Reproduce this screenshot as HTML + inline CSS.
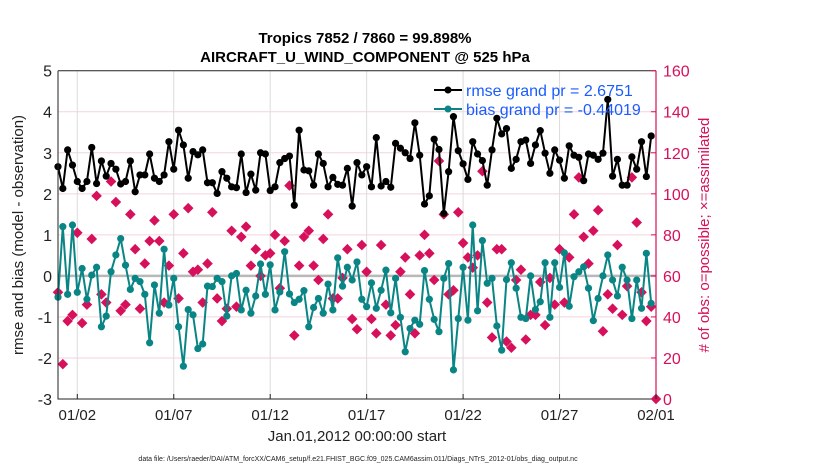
<!DOCTYPE html>
<html><head><meta charset="utf-8"><style>
html,body{margin:0;padding:0;background:#fff}
svg{display:block;font-family:"Liberation Sans",sans-serif}
</style></head><body>
<svg id="chart" width="830" height="470" viewBox="0 0 830 470">
<g id="grid"></g>
<g id="series"></g>
<g id="axes"></g>
<text x="365" y="43" text-anchor="middle" font-size="15" font-weight="bold">Tropics 7852 / 7860 = 99.898%</text>
<text x="365" y="62" text-anchor="middle" font-size="15" font-weight="bold">AIRCRAFT_U_WIND_COMPONENT @ 525 hPa</text>
<text transform="translate(23,235) rotate(-90)" text-anchor="middle" font-size="15" fill="#222">rmse and bias (model - observation)</text>
<text transform="translate(709,235) rotate(-90)" text-anchor="middle" font-size="15" fill="#d6105a"># of obs: o=possible; ×=assimilated</text>
<text x="357" y="441" text-anchor="middle" font-size="15" fill="#222">Jan.01,2012 00:00:00 start</text>
<text x="358" y="461" text-anchor="middle" font-size="7" fill="#222">data file: /Users/raeder/DAI/ATM_forcXX/CAM6_setup/f.e21.FHIST_BGC.f09_025.CAM6assim.011/Diags_NTrS_2012-01/obs_diag_output.nc</text>
<g>
<line x1="434" y1="90" x2="462" y2="90" stroke="#000" stroke-width="2"/>
<circle cx="448" cy="90" r="3.5" fill="#000"/>
<text x="466" y="96" font-size="16" fill="#1a5cff">rmse grand pr = 2.6751</text>
<line x1="434" y1="109" x2="462" y2="109" stroke="#0a8585" stroke-width="2"/>
<circle cx="448" cy="109" r="3.5" fill="#0a8585"/>
<text x="466" y="115" font-size="16" fill="#1a5cff">bias grand pr = -0.44019</text>
</g>
</svg>
<script>
const rmse=[2.66,2.13,3.07,2.70,2.30,2.13,2.30,3.13,2.25,2.80,2.43,2.74,2.60,2.24,2.30,2.80,2.05,2.46,2.46,2.97,2.38,2.30,2.46,3.27,2.60,3.55,3.19,2.38,3.03,2.95,
3.07,2.27,2.27,2.01,2.54,2.38,2.17,2.15,2.97,2.03,2.48,2.09,3.00,2.97,2.08,2.17,2.76,2.86,2.92,1.72,3.55,2.58,2.56,2.21,2.97,2.74,2.17,2.40,2.23,2.21,2.62,
1.70,2.76,2.46,2.66,2.17,3.37,2.19,2.30,2.16,3.23,3.11,3.00,2.86,3.73,2.94,1.75,1.95,3.33,3.08,1.52,2.54,3.88,3.05,2.73,2.35,3.27,2.97,2.81,2.21,3.07,3.84,
3.46,3.59,2.62,2.84,3.27,3.31,2.74,3.19,3.54,2.99,2.50,3.07,2.82,2.38,3.17,2.94,2.89,2.32,2.97,2.94,2.84,2.99,4.30,2.43,2.84,2.21,2.21,2.90,2.60,3.27,2.42,3.41];
const bias=[-0.52,1.20,-0.45,1.24,-0.40,0.18,-0.57,0.02,0.21,-1.24,-0.98,0.10,0.51,0.91,0.26,-0.33,-0.06,-0.14,-0.45,-1.63,-0.22,-0.91,0.65,-0.71,-0.06,-1.24,-2.20,-0.82,-0.95,-1.77,
-1.66,-0.25,-0.26,-0.06,-0.14,-0.98,0.00,0.06,-0.83,-0.35,-0.91,-0.49,0.29,-0.45,0.27,-0.83,-0.39,0.59,-0.44,-0.65,-0.57,-0.36,-1.24,-0.77,-0.55,-0.91,-0.20,-0.83,0.44,-0.25,0.21,
-0.10,0.34,-0.57,-0.75,-0.17,-0.79,-0.35,0.14,-0.90,-0.06,-1.01,-1.85,-1.28,-1.08,-1.18,0.13,-0.57,-1.06,-1.36,-0.06,0.30,-2.29,-1.04,0.21,-1.08,1.24,-0.85,0.86,-0.18,-0.06,-1.22,
-1.81,-0.09,0.32,-0.30,-1.01,-1.04,0.00,-0.82,-0.63,0.32,-1.01,0.32,-0.28,0.56,-0.74,-0.02,0.10,0.22,-0.30,-1.09,-0.55,0.00,0.51,-0.10,-0.49,0.21,-0.10,-1.04,-0.10,-0.79,0.55,-0.67];
const obsCount=[52,17,38,41,81,37,46,78,99,51,47,106,96,43,46,90,73,44,66,77,87,77,47,65,90,49,71,93,62,63,
47,66,91,49,38,44,82,45,79,84,65,73,60,70,71,80,54,77,104,31,65,79,82,65,58,78,90,49,49,59,73,
39,34,75,62,39,32,75,46,31,36,62,69,51,32,70,80,71,58,116,90,51,53,91,76,69,64,70,111,47,30,73,
73,28,25,58,63,29,41,41,57,36,59,46,73,47,69,90,108,79,66,82,92,33,51,44,75,41,55,108,86,52,38,45,0];
const xTickDays=[1,6,11,16,21,26,31];
const xTickLabels=["01/02","01/07","01/12","01/17","01/22","01/27","02/01"];
const yTicks=[-3,-2,-1,0,1,2,3,4,5];
const y2Ticks=[0,20,40,60,80,100,120,140,160];
const stepDays=0.25;

const NS="http://www.w3.org/2000/svg";
const L=58,R=656,T=70.7,B=399;
const xS=d=>L+(d/31)*(R-L);
const yS=v=>B-(v+3)/8*(B-T);
const y2S=c=>B-c/160*(B-T);
function mk(tag,attrs,parent){const e=document.createElementNS(NS,tag);for(const k in attrs)e.setAttribute(k,attrs[k]);parent.appendChild(e);return e;}
const grid=document.getElementById('grid'),ser=document.getElementById('series'),ax=document.getElementById('axes');

yTicks.forEach(v=>{
  if(v===-3||v===5)return;
  const g=mk('line',{x1:L,x2:R,y1:yS(v),y2:yS(v),stroke:'#f3d3df','stroke-width':1},grid);
  
  
});
xTickDays.forEach(d=>{
  const g=mk('line',{x1:xS(d),x2:xS(d),y1:T,y2:B,stroke:'#dcdcdc','stroke-width':1},grid);
  
  
});
const zl=mk('line',{x1:L,x2:R,y1:yS(0),y2:yS(0),stroke:'#b8b8b8','stroke-width':2.5},grid);



obsCount.forEach((c,i)=>{
  const x=xS(i*stepDays),y=y2S(c),s=5.3;
  const p=mk('polygon',{points:`${x},${y-s} ${x+s},${y} ${x},${y+s} ${x-s},${y}`,fill:'#d6105a'},ser);
  
  
});
function drawLine(vals,color,name){
  const pts=vals.map((v,i)=>xS(i*stepDays).toFixed(1)+','+yS(v).toFixed(1)).join(' ');
  const pl=mk('polyline',{points:pts,fill:'none',stroke:color,'stroke-width':2,'stroke-linejoin':'round'},ser);
  
  
  vals.forEach((v,i)=>{
    const c=mk('circle',{cx:xS(i*stepDays),cy:yS(v),r:3.6,fill:color},ser);
    
    
  });
}
drawLine(bias,'#0a8585','bias');
drawLine(rmse,'#000000','rmse');

const fr=mk('path',{d:`M${L},${T} L${R},${T} M${L},${T} L${L},${B} L${R},${B}`,stroke:'#222',fill:'none','stroke-width':1},ax);


const ra=mk('line',{x1:R,x2:R,y1:T,y2:B,stroke:'#d6105a','stroke-width':1.2},ax);


yTicks.forEach(v=>{
  const t=mk('text',{x:L-6,y:yS(v)+6,'text-anchor':'end','font-size':16,fill:'#222'},ax);
  t.textContent=String(v);
  
  
});
y2Ticks.forEach(c=>{
  const tk=mk('line',{x1:R-5,x2:R,y1:y2S(c),y2:y2S(c),stroke:'#d6105a'},ax);
  
  
  const t=mk('text',{x:R+7,y:y2S(c)+6,'font-size':16,fill:'#d6105a'},ax);
  t.textContent=String(c);
  
  
});
xTickDays.forEach((d,i)=>{
  const tk=mk('line',{x1:xS(d),x2:xS(d),y1:B-5,y2:B,stroke:'#222'},ax);
  
  
  const t=mk('text',{x:xS(d),y:420,'text-anchor':'middle','font-size':15,fill:'#222'},ax);
  t.textContent=xTickLabels[i];
  
  
});
</script>
</body></html>
